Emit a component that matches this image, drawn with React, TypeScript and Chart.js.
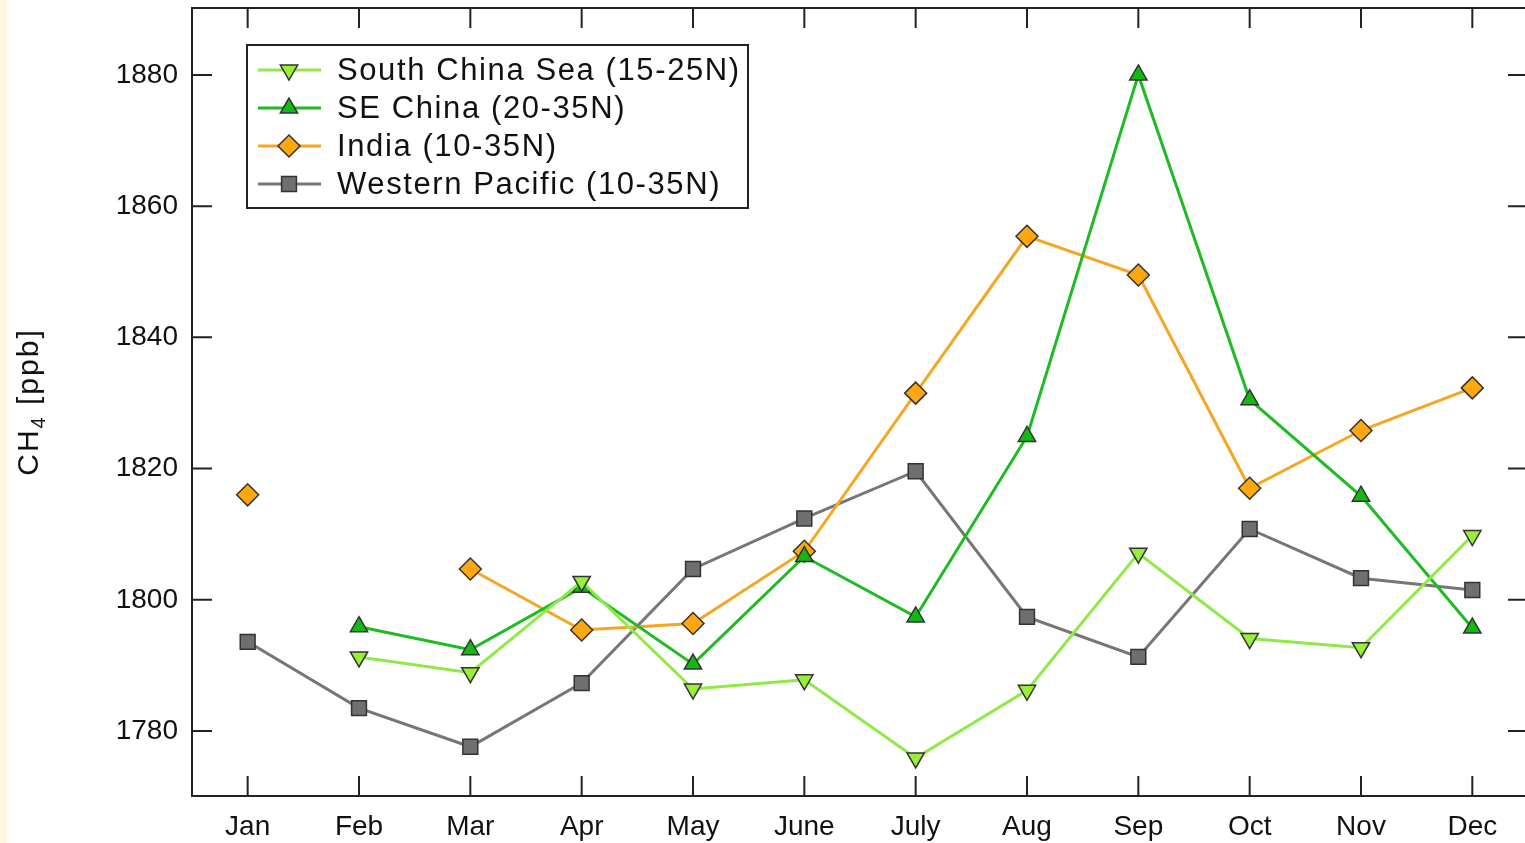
import React, { useEffect, useRef } from "react";
import { Chart, registerables } from "chart.js";

Chart.register(...registerables);

const months = ["Jan", "Feb", "Mar", "Apr", "May", "June", "July", "Aug", "Sep", "Oct", "Nov", "Dec"];
const yTicks = [1780, 1800, 1820, 1840, 1860, 1880];

const southChinaSea = [null, 1791.3, 1788.9, 1802.8, 1786.4, 1787.8, 1775.9, 1786.2, 1807.1, 1794.1, 1792.7, 1809.8];
const seChina = [null, 1795.9, 1792.4, 1801.9, 1790.2, 1806.6, 1797.4, 1824.9, 1880.0, 1830.5, 1815.8, 1795.7];
const india = [1816.0, null, 1804.7, 1795.4, 1796.4, 1807.4, 1831.5, 1855.4, 1849.5, 1817.0, 1825.8, 1832.3];
const westernPacific = [1793.6, 1783.5, 1777.6, 1787.3, 1804.7, 1812.4, 1819.6, 1797.4, 1791.3, 1810.8, 1803.3, 1801.5];

const seriesLabels = [
  "South China Sea (15-25N)",
  "SE China (20-35N)",
  "India (10-35N)",
  "Western Pacific (10-35N)",
];

const FONT = "'Liberation Sans', Arial, Helvetica, sans-serif";
const AXIS = "#222222";

const CANVAS_W = 1545;
const CANVAS_H = 843;
const AREA = { left: 192, top: 8, right: 1528, bottom: 796 };

function shapePath(ctx: CanvasRenderingContext2D, style: string, rotation: number, x: number, y: number, r: number) {
  ctx.beginPath();
  if (style === "triangle") {
    let rad = (rotation * Math.PI) / 180;
    ctx.moveTo(x + Math.sin(rad) * r, y - Math.cos(rad) * r);
    rad += (2 * Math.PI) / 3;
    ctx.lineTo(x + Math.sin(rad) * r, y - Math.cos(rad) * r);
    rad += (2 * Math.PI) / 3;
    ctx.lineTo(x + Math.sin(rad) * r, y - Math.cos(rad) * r);
    ctx.closePath();
  } else if (style === "rect") {
    const s = Math.SQRT1_2 * r;
    ctx.rect(x - s, y - s, 2 * s, 2 * s);
  } else if (style === "rectRot") {
    ctx.moveTo(x - r, y);
    ctx.lineTo(x, y - r);
    ctx.lineTo(x + r, y);
    ctx.lineTo(x, y + r);
    ctx.closePath();
  }
}

const framePlugin = {
  id: "framePlugin",
  afterDatasetsDraw(chart: any) {
    const ctx = chart.ctx as CanvasRenderingContext2D;
    const { left, top, right, bottom } = chart.chartArea;
    const xs = chart.scales.x;
    const ys = chart.scales.y;
    ctx.save();
    ctx.strokeStyle = AXIS;
    ctx.lineWidth = 2;
    ctx.strokeRect(left, top, right - left, bottom - top);
    const tl = 20;
    ctx.beginPath();
    months.forEach((_, i) => {
      const px = xs.getPixelForValue(i);
      ctx.moveTo(px, bottom);
      ctx.lineTo(px, bottom - tl);
      ctx.moveTo(px, top);
      ctx.lineTo(px, top + tl);
    });
    yTicks.forEach((v) => {
      const py = ys.getPixelForValue(v);
      ctx.moveTo(left, py);
      ctx.lineTo(left + tl, py);
      ctx.moveTo(right, py);
      ctx.lineTo(right - tl, py);
    });
    ctx.stroke();

    // Legend
    const bx = 247, by = 45, bw = 501, bh = 163;
    ctx.fillStyle = "#ffffff";
    ctx.fillRect(bx, by, bw, bh);
    ctx.lineWidth = 2;
    ctx.strokeStyle = AXIS;
    ctx.strokeRect(bx, by, bw, bh);
    const rowY = [70, 108, 146, 184];
    chart.data.datasets.forEach((ds: any, i: number) => {
      const y = rowY[i];
      ctx.strokeStyle = ds.borderColor;
      ctx.lineWidth = ds.borderWidth;
      ctx.beginPath();
      ctx.moveTo(258, y);
      ctx.lineTo(321, y);
      ctx.stroke();
      shapePath(ctx, ds.pointStyle, ds.pointRotation || 0, 289, y, ds.pointRadius);
      ctx.fillStyle = ds.pointBackgroundColor;
      ctx.fill();
      ctx.strokeStyle = ds.pointBorderColor;
      ctx.lineWidth = ds.pointBorderWidth;
      ctx.stroke();
      ctx.fillStyle = "#111111";
      ctx.font = `31px ${FONT}`;
      (ctx as any).letterSpacing = "1.6px";
      ctx.textBaseline = "middle";
      ctx.textAlign = "left";
      ctx.fillText(ds.label, 337, y + 1);
    });

    // Y axis title with subscript
    ctx.fillStyle = "#111111";
    (ctx as any).letterSpacing = "2px";
    ctx.translate(38, 402);
    ctx.rotate(-Math.PI / 2);
    ctx.textBaseline = "alphabetic";
    ctx.textAlign = "left";
    const big = `30px ${FONT}`;
    const small = `20px ${FONT}`;
    ctx.font = big;
    const w1 = ctx.measureText("CH").width;
    const w3 = ctx.measureText(" [ppb]").width;
    ctx.font = small;
    const w2 = ctx.measureText("4").width;
    let x0 = -(w1 + w2 + w3) / 2;
    ctx.font = big;
    ctx.fillText("CH", x0, 0);
    x0 += w1;
    ctx.font = small;
    ctx.fillText("4", x0, 7);
    x0 += w2;
    ctx.font = big;
    ctx.fillText(" [ppb]", x0, 0);
    (ctx as any).letterSpacing = "0px";
    ctx.restore();
  },
};

function makeDataset(label: string, data: (number | null)[], line: string, fill: string, style: string, radius: number, rotation = 0) {
  return {
    label,
    data,
    borderColor: line,
    borderWidth: 3,
    pointStyle: style,
    pointRotation: rotation,
    pointRadius: radius,
    pointBackgroundColor: fill,
    pointBorderColor: "#333333",
    pointBorderWidth: 1.5,
    tension: 0,
    spanGaps: false,
    fill: false,
  };
}

export default function App() {
  const canvasRef = useRef<HTMLCanvasElement | null>(null);

  useEffect(() => {
    const canvas = canvasRef.current;
    if (!canvas) return;
    const chart = new Chart(canvas, {
      type: "line",
      data: {
        labels: months,
        datasets: [
          makeDataset(seriesLabels[0], southChinaSea, "#8fea48", "#99ee3a", "triangle", 10, 180),
          makeDataset(seriesLabels[1], seChina, "#1fbb22", "#14b814", "triangle", 10),
          makeDataset(seriesLabels[2], india, "#f5a623", "#ffa70f", "rectRot", 11),
          makeDataset(seriesLabels[3], westernPacific, "#767676", "#6f6f6f", "rect", 10.5),
        ] as any,
      },
      options: {
        responsive: false,
        animation: false,
        layout: {
          autoPadding: false,
          padding: { left: 0, top: AREA.top, right: CANVAS_W - AREA.right, bottom: 0 },
        },
        plugins: {
          legend: { display: false },
          tooltip: { enabled: false },
        },
        scales: {
          x: {
            type: "category",
            offset: true,
            grid: { display: false, drawTicks: false },
            border: { display: false },
            ticks: {
              color: "#111111",
              font: { family: FONT, size: 28 },
              padding: 14,
              maxRotation: 0,
              autoSkip: false,
            },
            afterFit(scale: any) {
              scale.height = CANVAS_H - AREA.bottom;
              scale.paddingLeft = 0;
              scale.paddingRight = 0;
              scale.paddingTop = 0;
              scale.paddingBottom = 0;
            },
          },
          y: {
            type: "linear",
            min: 1770.1,
            max: 1890.2,
            grid: { display: false, drawTicks: false },
            border: { display: false },
            afterBuildTicks(scale: any) {
              scale.ticks = yTicks.map((v) => ({ value: v }));
            },
            ticks: {
              color: "#111111",
              font: { family: FONT, size: 28 },
              padding: 14,
              callback: (v: any) => String(v),
            },
            afterFit(scale: any) {
              scale.width = AREA.left;
              scale.paddingTop = 0;
              scale.paddingBottom = 0;
              scale.paddingLeft = 0;
              scale.paddingRight = 0;
            },
          },
        },
      },
      plugins: [framePlugin],
    });
    return () => chart.destroy();
  }, []);

  return (
    <div
      style={{
        position: "fixed",
        left: 0,
        top: 0,
        width: 1525,
        height: 843,
        overflow: "hidden",
        background: "#ffffff",
      }}
    >
      <canvas
        ref={canvasRef}
        width={CANVAS_W}
        height={CANVAS_H}
        style={{ position: "absolute", left: 0, top: 0, width: CANVAS_W, height: CANVAS_H }}
      />
      <div
        style={{
          position: "absolute",
          left: 0,
          top: 0,
          width: 7,
          height: 843,
          background: "#fdf5df",
        }}
      />
    </div>
  );
}
